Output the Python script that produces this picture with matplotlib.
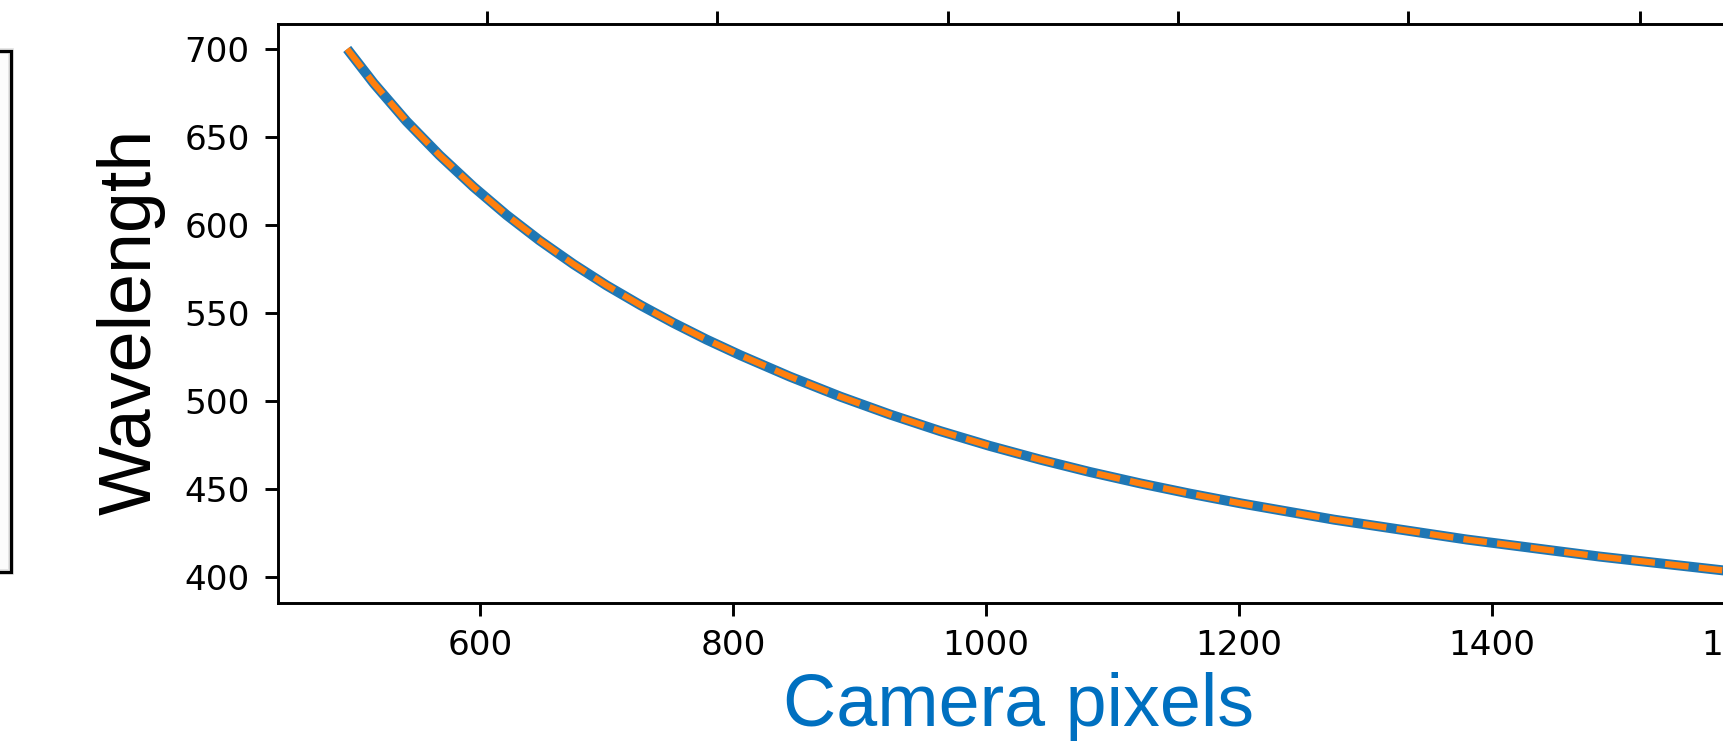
import numpy as np
import matplotlib.pyplot as plt
from matplotlib.patches import Rectangle

# camera pixel -> wavelength calibration curve
pixels = [495, 516, 542, 568, 595, 621, 647, 674, 700, 727, 753, 779, 806,
          845, 885, 924, 964, 1003, 1043, 1082, 1122, 1161, 1201, 1275,
          1380, 1485, 1582, 1625]
wavelength = [700, 680.5, 658.8, 639.6, 621.5, 605.6, 591.2, 577.6, 565.6, 554.3,
              544.2, 534.8, 525.8, 513.7, 502.3, 492.2, 482.7, 474.3, 466.5,
              459.5, 453.0, 447.2, 441.7, 432.4, 421.1, 411.4, 403.6, 400.3]

x_ticks = [600, 800, 1000, 1200, 1400, 1600]
y_ticks = [400, 450, 500, 550, 600, 650, 700]
# secondary (top) axis ticks, labels are cropped off in the reference
top_ticks = [605.6, 787.3, 969.8, 1151.5, 1334, 1517.3]

W, H = 1724, 742
fig = plt.figure(figsize=(W / 100, H / 100), dpi=100)

# axes runs past the right edge of the canvas (reference is a crop)
ax = fig.add_axes([278 / W, 1 - 603 / H, (1800 - 278) / W, (603 - 24) / H])
ax.plot(pixels, wavelength, color='#1f77b4', lw=7.2, solid_capstyle='butt',
        solid_joinstyle='round')
ax.plot(pixels, wavelength, color='#ff7f0e', lw=4.6, linestyle='--')

ax.set_xlim(440.3, 1643.5)
ax.set_ylim(385, 714.2)
ax.set_xticks(x_ticks)
ax.set_yticks(y_ticks)

for s in ax.spines.values():
    s.set_linewidth(2.1)
ax.tick_params(axis='both', length=9.4, width=2.1, labelsize=24.7)
ax.tick_params(axis='x', pad=9)
ax.tick_params(axis='y', pad=11)

ax2 = ax.twiny()
ax2.set_xlim(ax.get_xlim())
ax2.set_xticks(top_ticks)
ax2.set_xticklabels([])
ax2.tick_params(axis='x', length=9.4, width=2.1)

# slide text labels
fig.text(131.5 / W, 1 - 322 / H, 'Wavelength', rotation=90, ha='center', va='center',
         fontsize=53, family='Liberation Sans', color='black')
fig.text(1018.4 / W, 1 - 726 / H, 'Camera pixels', ha='center', va='baseline',
         fontsize=53, family='Liberation Sans', color='#0070C0')

# edge of neighbouring panel on the left
fig.patches.append(Rectangle((-0.05, 1 - 572 / H), 0.05 + 10.5 / W, (572 - 51) / H,
                             transform=fig.transFigure, fill=True, facecolor='#fcfcfc',
                             edgecolor='#e4e4e4', lw=4.2))
fig.patches.append(Rectangle((-0.05, 1 - 572 / H), 0.05 + 10.5 / W, (572 - 51) / H,
                             transform=fig.transFigure, fill=False,
                             edgecolor='black', lw=2.3))

fig.savefig('out.png', dpi=100)
